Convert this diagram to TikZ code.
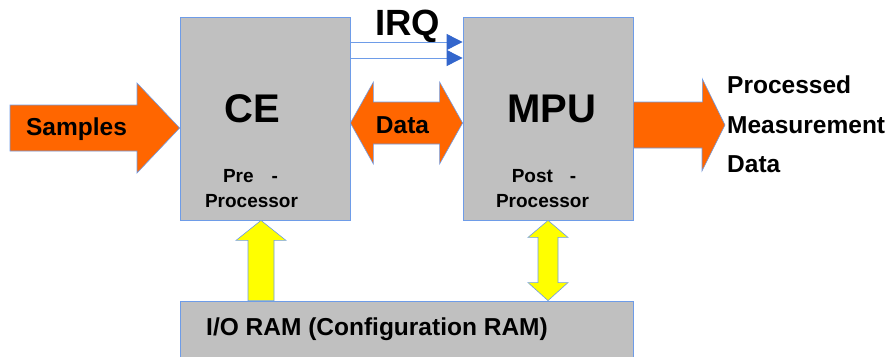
\documentclass[tikz,border=0pt]{standalone}
\usepackage{fontspec}
\setmainfont{Liberation Sans}
\usetikzlibrary{arrows.meta,calc}
\definecolor{boxgray}{RGB}{192,192,192}
\definecolor{edgeblue}{RGB}{110,156,232}
\definecolor{irqblue}{RGB}{51,102,204}
\definecolor{blockorange}{RGB}{255,102,0}
\definecolor{blockyellow}{RGB}{255,255,0}
\begin{document}
\begin{tikzpicture}[x=1pt,y=-1pt,
    unitbox/.style={draw=edgeblue,line width=0.8pt,fill=boxgray,inner sep=0pt},
    orangearrow/.style={draw=edgeblue,line width=0.6pt,fill=blockorange,line join=miter},
    yellowarrow/.style={draw=edgeblue,line width=0.6pt,fill=blockyellow,line join=miter},
    irqline/.style={draw=edgeblue,line width=0.9pt,-{Triangle[length=16pt,width=16pt,color=irqblue]}},
    big/.style={font=\bfseries\fontsize{40}{40}\selectfont},
    mid/.style={font=\bfseries\fontsize{24.5}{24.5}\selectfont},
    small/.style={font=\bfseries\fontsize{19}{19}\selectfont}]

        \useasboundingbox (0,0) rectangle (893,356);

        \begin{scope}[every node/.style={unitbox}]
          \node[minimum width=170pt, minimum height=203pt] (ce)  at (265,118.5) {};
          \node[minimum width=170pt, minimum height=203pt] (mpu) at (548,118.5) {};
          \node[minimum width=453pt, minimum height=70pt]  (ram) at (406.5,336) {};
        \end{scope}

        \begin{scope}[every node/.style={anchor=base, inner sep=0pt}]
          \node[big] (celabel)  at (252.5,122) {CE};
          \node[big] (mpulabel) at (552,122)   {MPU};
          \node[font=\bfseries\fontsize{36.5}{36.5}\selectfont] (irq) at (407.5,35) {IRQ};
          \node[small] (pre)   at (250.5,182) {Pre\hspace{18pt}-};
          \node[small] (preproc)  at (251.5,207) {Processor};
          \node[small] (post)  at (544,182)   {Post\hspace{17pt}-};
          \node[small] (postproc) at (542.5,207) {Processor};
        \end{scope}

        \coordinate (sin) at (10,128);
        \coordinate (outtip) at (725,125);
        \path (ce.east |- 0,123) coordinate (dl) (mpu.west |- 0,123) coordinate (dr);

        \draw[orangearrow] (sin) ++(0,-23) -- ++(127,0) -- ++(0,-22) -- (ce.west |- sin)
          -- ($(sin)+(127,45)$) -- ++(0,-22) -- ++(-127,0) -- cycle;
        \draw[orangearrow] (dl) -- ++(23,-41) -- ++(0,20) -- ($(dr)+(-23,-21)$) -- ++(0,-20) -- (dr)
          -- ++(-23,41) -- ++(0,-20) -- ($(dl)+(23,21)$) -- ++(0,20) -- cycle;
        \draw[orangearrow] (mpu.east |- outtip) ++(0,-23) -- ++(69,0) -- ++(0,-23) -- (outtip)
          -- ++(-23,46) -- ++(0,-23) -- (mpu.east |- 0,148) -- cycle;

        \draw[yellowarrow] (ce.south -| 261,0) -- ++(25,20) -- ++(-12,0) -- (ram.north -| 274,0)
          -- ++(-26,0) -- ($(ce.south -| 248,0)+(0,20)$) -- ++(-12,0) -- cycle;
        \draw[yellowarrow] (mpu.south -| 548,0) -- ++(20,17) -- ++(-10,0) -- ($(ram.north -| 558,0)+(0,-18)$)
          -- ++(10,0) -- (ram.north -| 548,0) -- ++(-20,-18) -- ++(10,0)
          -- ($(mpu.south -| 538,0)+(0,17)$) -- ++(-10,0) -- cycle;

        \draw[irqline] (ce.east |- 0,42) -- (mpu.west |- 0,42);
        \draw[irqline] (ce.east |- 0,58) -- (mpu.west |- 0,58);

        \begin{scope}[every node/.style={mid, inner sep=0pt}]
          \node[anchor=base] (samples) at (76.5,135) {Samples};
          \node[anchor=base] (data)    at (402.5,133) {Data};
          \node[anchor=base west] (out1) at (727,93)  {Processed};
          \node[anchor=base west] (out2) at (727,133) {Measurement};
          \node[anchor=base west] (out3) at (727,172) {Data};
          \node[anchor=base west] (ramlabel) at (206,335) {I/O RAM (Configuration RAM)};
        \end{scope}

      \end{tikzpicture}
\end{document}
